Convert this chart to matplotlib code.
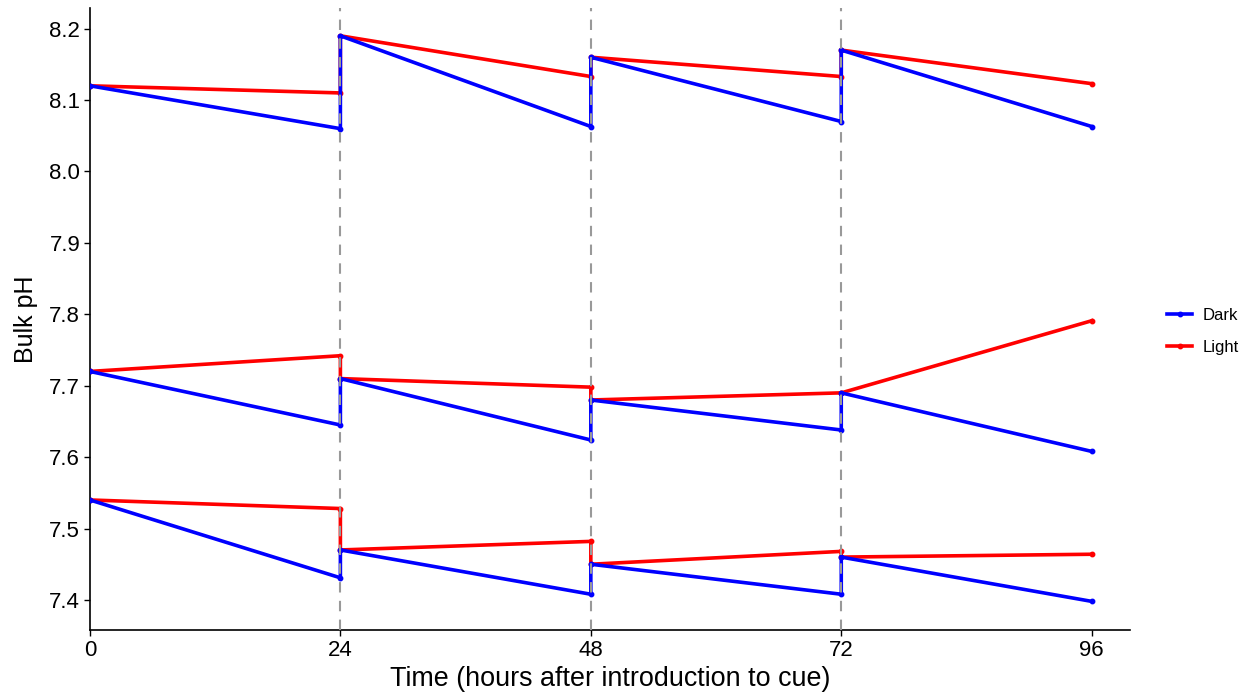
import matplotlib
matplotlib.use('Agg')
import matplotlib.pyplot as plt

# Sampling times (hours); each cue renewal creates a jump at 24/48/72
times = [0, 24, 24, 48, 48, 72, 72, 96]

# Bulk pH, three starting levels, Dark and Light treatments
dark_high = [8.12, 8.060, 8.19, 8.063, 8.16, 8.070, 8.17, 8.063]
light_high = [8.12, 8.110, 8.19, 8.133, 8.16, 8.133, 8.17, 8.123]
dark_mid = [7.72, 7.645, 7.71, 7.624, 7.68, 7.638, 7.69, 7.608]
light_mid = [7.72, 7.742, 7.71, 7.698, 7.68, 7.690, 7.69, 7.791]
dark_low = [7.54, 7.431, 7.47, 7.408, 7.45, 7.408, 7.46, 7.398]
light_low = [7.54, 7.528, 7.47, 7.482, 7.45, 7.468, 7.46, 7.464]

renewals = [24, 48, 72]
x_ticks = [0, 24, 48, 72, 96]
y_ticks = [7.4, 7.5, 7.6, 7.7, 7.8, 7.9, 8.0, 8.1, 8.2]

plt.rcParams['font.family'] = ['Liberation Sans', 'DejaVu Sans']

fig = plt.figure(figsize=(12.58, 6.93), dpi=100)
ax = fig.add_axes([0.0715, 0.091, 0.8265, 0.8975])

style = dict(lw=2.6, marker='o', markersize=3.2)
# light first so the dark lines sit on top, as in the original
for i, series in enumerate([light_high, light_mid, light_low]):
    ax.plot(times, series, color='#ff0000', label='Light' if i == 0 else None, zorder=2, **style)
for i, series in enumerate([dark_high, dark_mid, dark_low]):
    ax.plot(times, series, color='#0000ff', label='Dark' if i == 0 else None, zorder=3, **style)

for t in renewals:
    ax.axvline(t, color='#999999', lw=1.5, ls=(0, (5, 4)), zorder=5)

ax.set_xlim(0, 99.64)
ax.set_ylim(7.358, 8.229)
ax.set_xticks(x_ticks)
ax.set_yticks(y_ticks)
ax.set_yticklabels([f'{v:.1f}' for v in y_ticks])
ax.tick_params(direction='out', length=4, width=1, labelsize=16, colors='black', pad=3)

for side in ['top', 'right']:
    ax.spines[side].set_visible(False)
for side in ['left', 'bottom']:
    ax.spines[side].set_linewidth(1.2)

ax.set_xlabel('Time (hours after introduction to cue)', fontsize=19.4, labelpad=4)
ax.set_ylabel('Bulk pH', fontsize=18, labelpad=8)

handles, labels = ax.get_legend_handles_labels()
order = [labels.index('Dark'), labels.index('Light')]
fig.legend([handles[i] for i in order], [labels[i] for i in order],
           loc='center left', bbox_to_anchor=(0.928, 0.522), frameon=False,
           borderpad=0, borderaxespad=0,
           fontsize=12, handlelength=1.5, handletextpad=0.6, labelspacing=1.0)

fig.savefig('out.png', dpi=100)
